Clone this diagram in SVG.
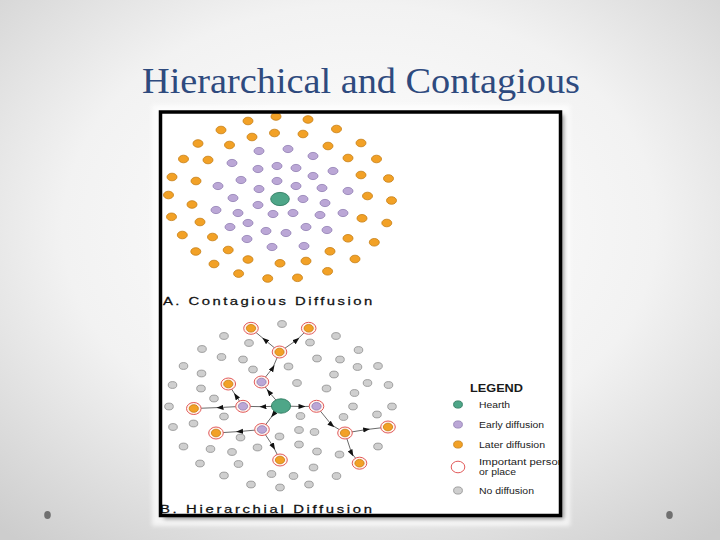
<svg xmlns="http://www.w3.org/2000/svg" width="720" height="540" viewBox="0 0 720 540">
<defs>
<radialGradient id="bg" cx="50%" cy="42%" r="75%">
<stop offset="0" stop-color="#ffffff"/>
<stop offset="0.55" stop-color="#f2f2f2"/>
<stop offset="1" stop-color="#cdcdcd"/>
</radialGradient>
<filter id="blur" x="-10%" y="-10%" width="120%" height="120%"><feGaussianBlur stdDeviation="2"/></filter>
<clipPath id="inner"><rect x="162" y="113" width="397" height="402"/></clipPath>
<marker id="ah" markerUnits="userSpaceOnUse" markerWidth="7" markerHeight="6" refX="3.5" refY="2.6" orient="auto">
<path d="M0,0 L7,2.6 L0,5.2 z" fill="#111"/>
</marker>
<style>
.o{fill:#f2a126;stroke:#c57d14;stroke-width:0.8}
.p{fill:#bba7d6;stroke:#8e7bb1;stroke-width:0.8}
.g{fill:#cfcfcf;stroke:#8e8e8e;stroke-width:0.8}
.h{fill:#4ea688;stroke:#2e7a60;stroke-width:0.9}
.ring{fill:#fff4ee;stroke:#e25a5a;stroke-width:1}
.lbl{font-family:"Liberation Sans",Arial,sans-serif;font-size:11px;fill:#111;stroke:#111;stroke-width:0.25}
.leg{font-family:"Liberation Sans",Arial,sans-serif;font-size:8.5px;fill:#1a1a1a}
.con path{fill:none;stroke:#444;stroke-width:0.8;marker-mid:url(#ah)}
</style>
</defs>
<rect width="720" height="540" fill="url(#bg)"/>
<text x="142" y="93" font-family="'Liberation Serif','Times New Roman',serif" font-size="36" fill="#2e4a7e" textLength="438" lengthAdjust="spacingAndGlyphs">Hierarchical and Contagious</text>
<ellipse cx="47.5" cy="515" rx="3.3" ry="4" fill="#707070"/>
<ellipse cx="669.5" cy="515" rx="3.3" ry="4" fill="#707070"/>
<rect x="152" y="105" width="418" height="421" fill="#ffffff" opacity="0.7" filter="url(#blur)"/>
<rect x="164" y="115" width="400" height="404" fill="#555" opacity="0.6" filter="url(#blur)"/>
<rect x="160.5" y="112" width="400" height="403.5" fill="#ffffff"/>
<g clip-path="url(#inner)">
<g id="contagious">
<g id="c-later">
<ellipse class="o" cx="248" cy="121" rx="5" ry="3.8"/><ellipse class="o" cx="276" cy="116.5" rx="5" ry="3.8"/><ellipse class="o" cx="308" cy="119.5" rx="5" ry="3.8"/>
<ellipse class="o" cx="221" cy="130" rx="5" ry="3.8"/><ellipse class="o" cx="336.5" cy="129" rx="5" ry="3.8"/>
<ellipse class="o" cx="252" cy="137" rx="5" ry="3.8"/><ellipse class="o" cx="274.5" cy="133" rx="5" ry="3.8"/><ellipse class="o" cx="303" cy="134" rx="5" ry="3.8"/>
<ellipse class="o" cx="198" cy="143.5" rx="5" ry="3.8"/><ellipse class="o" cx="229.5" cy="145" rx="5" ry="3.8"/><ellipse class="o" cx="328" cy="146" rx="5" ry="3.8"/><ellipse class="o" cx="361" cy="143" rx="5" ry="3.8"/>
<ellipse class="o" cx="183.5" cy="159" rx="5" ry="3.8"/><ellipse class="o" cx="208" cy="160" rx="5" ry="3.8"/><ellipse class="o" cx="348" cy="158" rx="5" ry="3.8"/><ellipse class="o" cx="376.5" cy="159" rx="5" ry="3.8"/>
<ellipse class="o" cx="172" cy="177" rx="5" ry="3.8"/><ellipse class="o" cx="196" cy="181" rx="5" ry="3.8"/><ellipse class="o" cx="361" cy="175" rx="5" ry="3.8"/><ellipse class="o" cx="388.5" cy="178.5" rx="5" ry="3.8"/>
<ellipse class="o" cx="168.5" cy="195" rx="5" ry="3.8"/><ellipse class="o" cx="192" cy="204.5" rx="5" ry="3.8"/><ellipse class="o" cx="367.5" cy="196" rx="5" ry="3.8"/><ellipse class="o" cx="391.5" cy="200.5" rx="5" ry="3.8"/>
<ellipse class="o" cx="171.5" cy="216.8" rx="5" ry="3.8"/><ellipse class="o" cx="200" cy="222" rx="5" ry="3.8"/><ellipse class="o" cx="362" cy="218.3" rx="5" ry="3.8"/><ellipse class="o" cx="386.8" cy="223" rx="5" ry="3.8"/>
<ellipse class="o" cx="182.3" cy="235" rx="5" ry="3.8"/><ellipse class="o" cx="212.5" cy="237" rx="5" ry="3.8"/><ellipse class="o" cx="348" cy="238.3" rx="5" ry="3.8"/><ellipse class="o" cx="374.3" cy="242.3" rx="5" ry="3.8"/>
<ellipse class="o" cx="195.8" cy="251.5" rx="5" ry="3.8"/><ellipse class="o" cx="228.2" cy="250" rx="5" ry="3.8"/><ellipse class="o" cx="330" cy="251.3" rx="5" ry="3.8"/><ellipse class="o" cx="355" cy="259" rx="5" ry="3.8"/>
<ellipse class="o" cx="214" cy="264" rx="5" ry="3.8"/><ellipse class="o" cx="248" cy="259.5" rx="5" ry="3.8"/><ellipse class="o" cx="280" cy="263.3" rx="5" ry="3.8"/><ellipse class="o" cx="306" cy="261" rx="5" ry="3.8"/>
<ellipse class="o" cx="327.6" cy="271.3" rx="5" ry="3.8"/><ellipse class="o" cx="238.6" cy="273.6" rx="5" ry="3.8"/><ellipse class="o" cx="267.7" cy="278.5" rx="5" ry="3.8"/><ellipse class="o" cx="297.5" cy="277.8" rx="5" ry="3.8"/>
</g>
<g id="c-early">
<ellipse class="p" cx="259" cy="151" rx="5" ry="3.6"/><ellipse class="p" cx="288" cy="149" rx="5" ry="3.6"/><ellipse class="p" cx="313" cy="156" rx="5" ry="3.6"/>
<ellipse class="p" cx="232" cy="163" rx="5" ry="3.6"/><ellipse class="p" cx="258" cy="169" rx="5" ry="3.6"/><ellipse class="p" cx="277" cy="166" rx="5" ry="3.6"/><ellipse class="p" cx="296" cy="168" rx="5" ry="3.6"/><ellipse class="p" cx="313" cy="176" rx="5" ry="3.6"/><ellipse class="p" cx="333" cy="171" rx="5" ry="3.6"/>
<ellipse class="p" cx="218" cy="186" rx="5" ry="3.6"/><ellipse class="p" cx="241" cy="180" rx="5" ry="3.6"/><ellipse class="p" cx="277" cy="181" rx="5" ry="3.6"/><ellipse class="p" cx="296" cy="186" rx="5" ry="3.6"/><ellipse class="p" cx="259" cy="189" rx="5" ry="3.6"/><ellipse class="p" cx="322" cy="188" rx="5" ry="3.6"/><ellipse class="p" cx="348" cy="191" rx="5" ry="3.6"/>
<ellipse class="p" cx="233" cy="198" rx="5" ry="3.6"/><ellipse class="p" cx="303" cy="199" rx="5" ry="3.6"/><ellipse class="p" cx="325" cy="203" rx="5" ry="3.6"/><ellipse class="p" cx="258" cy="205" rx="5" ry="3.6"/>
<ellipse class="p" cx="216" cy="210" rx="5" ry="3.6"/><ellipse class="p" cx="238" cy="213" rx="5" ry="3.6"/><ellipse class="p" cx="273" cy="214" rx="5" ry="3.6"/><ellipse class="p" cx="293" cy="213" rx="5" ry="3.6"/><ellipse class="p" cx="320" cy="215" rx="5" ry="3.6"/><ellipse class="p" cx="343" cy="213" rx="5" ry="3.6"/>
<ellipse class="p" cx="230" cy="227" rx="5" ry="3.6"/><ellipse class="p" cx="248" cy="223" rx="5" ry="3.6"/><ellipse class="p" cx="266" cy="231" rx="5" ry="3.6"/><ellipse class="p" cx="286" cy="233" rx="5" ry="3.6"/><ellipse class="p" cx="306" cy="227" rx="5" ry="3.6"/><ellipse class="p" cx="327" cy="230" rx="5" ry="3.6"/>
<ellipse class="p" cx="247" cy="239" rx="5" ry="3.6"/><ellipse class="p" cx="272" cy="247" rx="5" ry="3.6"/><ellipse class="p" cx="304" cy="246" rx="5" ry="3.6"/>
</g>
<g id="c-hearth"><ellipse class="h" cx="280" cy="199" rx="9.3" ry="6.6"/></g>
</g>
<text class="lbl" transform="translate(163,305) scale(1.35,1)" x="0" y="0" textLength="155" lengthAdjust="spacing">A. Contagious Diffusion</text>

<g id="h-none">
<ellipse class="g" cx="282" cy="324" rx="4.3" ry="3.4"/><ellipse class="g" cx="224" cy="336" rx="4.3" ry="3.4"/><ellipse class="g" cx="336" cy="336" rx="4.3" ry="3.4"/><ellipse class="g" cx="249" cy="343" rx="4.3" ry="3.4"/><ellipse class="g" cx="310" cy="342.5" rx="4.3" ry="3.4"/>
<ellipse class="g" cx="202" cy="349" rx="4.3" ry="3.4"/><ellipse class="g" cx="358.5" cy="350" rx="4.3" ry="3.4"/><ellipse class="g" cx="221.5" cy="357" rx="4.3" ry="3.4"/><ellipse class="g" cx="243" cy="359.5" rx="4.3" ry="3.4"/><ellipse class="g" cx="317" cy="358.5" rx="4.3" ry="3.4"/><ellipse class="g" cx="340" cy="359.5" rx="4.3" ry="3.4"/>
<ellipse class="g" cx="183.5" cy="366" rx="4.3" ry="3.4"/><ellipse class="g" cx="253" cy="369.5" rx="4.3" ry="3.4"/><ellipse class="g" cx="288.5" cy="366.5" rx="4.3" ry="3.4"/><ellipse class="g" cx="357.5" cy="367" rx="4.3" ry="3.4"/><ellipse class="g" cx="378" cy="366" rx="4.3" ry="3.4"/>
<ellipse class="g" cx="201.5" cy="373.5" rx="4.3" ry="3.4"/><ellipse class="g" cx="334" cy="374.5" rx="4.3" ry="3.4"/>
<ellipse class="g" cx="172.5" cy="385" rx="4.3" ry="3.4"/><ellipse class="g" cx="201" cy="388.5" rx="4.3" ry="3.4"/><ellipse class="g" cx="297" cy="383" rx="4.3" ry="3.4"/><ellipse class="g" cx="326.5" cy="388.5" rx="4.3" ry="3.4"/><ellipse class="g" cx="367.5" cy="383" rx="4.3" ry="3.4"/><ellipse class="g" cx="388.5" cy="385" rx="4.3" ry="3.4"/>
<ellipse class="g" cx="214" cy="398.5" rx="4.3" ry="3.4"/><ellipse class="g" cx="354.5" cy="393" rx="4.3" ry="3.4"/>
<ellipse class="g" cx="169" cy="406.5" rx="4.3" ry="3.4"/><ellipse class="g" cx="224" cy="416.5" rx="4.3" ry="3.4"/><ellipse class="g" cx="300.5" cy="416" rx="4.3" ry="3.4"/><ellipse class="g" cx="353" cy="406.5" rx="4.3" ry="3.4"/><ellipse class="g" cx="392" cy="406.5" rx="4.3" ry="3.4"/>
<ellipse class="g" cx="173" cy="427" rx="4.3" ry="3.4"/><ellipse class="g" cx="193.5" cy="423.5" rx="4.3" ry="3.4"/><ellipse class="g" cx="343.5" cy="417" rx="4.3" ry="3.4"/><ellipse class="g" cx="377" cy="414.5" rx="4.3" ry="3.4"/>
<ellipse class="g" cx="240.5" cy="437.5" rx="4.3" ry="3.4"/><ellipse class="g" cx="279.5" cy="436.5" rx="4.3" ry="3.4"/><ellipse class="g" cx="299" cy="430" rx="4.3" ry="3.4"/><ellipse class="g" cx="314.5" cy="432" rx="4.3" ry="3.4"/>
<ellipse class="g" cx="299" cy="444.5" rx="4.3" ry="3.4"/><ellipse class="g" cx="183.5" cy="446.5" rx="4.3" ry="3.4"/><ellipse class="g" cx="210.5" cy="449" rx="4.3" ry="3.4"/><ellipse class="g" cx="232" cy="452" rx="4.3" ry="3.4"/><ellipse class="g" cx="257.5" cy="447.5" rx="4.3" ry="3.4"/><ellipse class="g" cx="317" cy="451.5" rx="4.3" ry="3.4"/><ellipse class="g" cx="339.5" cy="454.5" rx="4.3" ry="3.4"/><ellipse class="g" cx="378" cy="446.5" rx="4.3" ry="3.4"/>
<ellipse class="g" cx="200" cy="463.5" rx="4.3" ry="3.4"/><ellipse class="g" cx="238.5" cy="464" rx="4.3" ry="3.4"/><ellipse class="g" cx="313.5" cy="467.5" rx="4.3" ry="3.4"/><ellipse class="g" cx="336.5" cy="476" rx="4.3" ry="3.4"/>
<ellipse class="g" cx="224" cy="475.5" rx="4.3" ry="3.4"/><ellipse class="g" cx="271.5" cy="474" rx="4.3" ry="3.4"/><ellipse class="g" cx="293.5" cy="476" rx="4.3" ry="3.4"/>
<ellipse class="g" cx="251" cy="484.5" rx="4.3" ry="3.4"/><ellipse class="g" cx="280" cy="487.5" rx="4.3" ry="3.4"/><ellipse class="g" cx="309" cy="484.5" rx="4.3" ry="3.4"/>
</g>

<g id="connectors" class="con">
<path d="M281,406 L269,392 L261.5,382"/>
<path d="M281,406 L263,406.7 L243,406.3"/>
<path d="M281,406 L302,406.5 L316.5,406.3"/>
<path d="M281,406 L273.3,414.5 L262,429.5"/>
<path d="M261.5,382 L272.7,368 L279.5,352"/>
<path d="M279.5,352 L265,340 L251,328.3"/>
<path d="M279.5,352 L296.7,340 L308.7,328.3"/>
<path d="M243,406.3 L236,396 L228.3,384"/>
<path d="M243,406.3 L220,407.5 L193.8,408.5"/>
<path d="M262,429.5 L239.5,431.5 L216,433"/>
<path d="M262,429.5 L273.3,446.7 L280,460"/>
<path d="M316.5,406.3 L331.7,425 L345,433"/>
<path d="M345,433 L366.7,429.5 L388,427"/>
<path d="M345,433 L351.7,453.3 L359.5,463.2"/>
</g>

<g id="h-hearth"><ellipse class="h" cx="281" cy="406" rx="9.6" ry="7.2"/></g>
<g id="h-early-1"><ellipse class="ring" cx="261.5" cy="382" rx="7.3" ry="6"/><ellipse class="p" cx="261.5" cy="382" rx="4.6" ry="3.8"/></g>
<g id="h-early-2"><ellipse class="ring" cx="243" cy="406.3" rx="7.3" ry="6"/><ellipse class="p" cx="243" cy="406.3" rx="4.6" ry="3.8"/></g>
<g id="h-early-3"><ellipse class="ring" cx="316.5" cy="406.3" rx="7.3" ry="6"/><ellipse class="p" cx="316.5" cy="406.3" rx="4.6" ry="3.8"/></g>
<g id="h-early-4"><ellipse class="ring" cx="262" cy="429.5" rx="7.3" ry="6"/><ellipse class="p" cx="262" cy="429.5" rx="4.6" ry="3.8"/></g>
<g id="h-later-1"><ellipse class="ring" cx="279.5" cy="352" rx="7.3" ry="6"/><ellipse class="o" cx="279.5" cy="352" rx="4.6" ry="3.8"/></g>
<g id="h-later-2"><ellipse class="ring" cx="251" cy="328.3" rx="7.3" ry="6"/><ellipse class="o" cx="251" cy="328.3" rx="4.6" ry="3.8"/></g>
<g id="h-later-3"><ellipse class="ring" cx="308.7" cy="328.3" rx="7.3" ry="6"/><ellipse class="o" cx="308.7" cy="328.3" rx="4.6" ry="3.8"/></g>
<g id="h-later-4"><ellipse class="ring" cx="228.3" cy="384" rx="7.3" ry="6"/><ellipse class="o" cx="228.3" cy="384" rx="4.6" ry="3.8"/></g>
<g id="h-later-5"><ellipse class="ring" cx="193.8" cy="408.5" rx="7.3" ry="6"/><ellipse class="o" cx="193.8" cy="408.5" rx="4.6" ry="3.8"/></g>
<g id="h-later-6"><ellipse class="ring" cx="216" cy="433" rx="7.3" ry="6"/><ellipse class="o" cx="216" cy="433" rx="4.6" ry="3.8"/></g>
<g id="h-later-7"><ellipse class="ring" cx="280" cy="460" rx="7.3" ry="6"/><ellipse class="o" cx="280" cy="460" rx="4.6" ry="3.8"/></g>
<g id="h-later-8"><ellipse class="ring" cx="345" cy="433" rx="7.3" ry="6"/><ellipse class="o" cx="345" cy="433" rx="4.6" ry="3.8"/></g>
<g id="h-later-9"><ellipse class="ring" cx="388" cy="427" rx="7.3" ry="6"/><ellipse class="o" cx="388" cy="427" rx="4.6" ry="3.8"/></g>
<g id="h-later-10"><ellipse class="ring" cx="359.5" cy="463.2" rx="7.3" ry="6"/><ellipse class="o" cx="359.5" cy="463.2" rx="4.6" ry="3.8"/></g>

<g id="legend">
<text x="470" y="392" font-family="'Liberation Sans',Arial,sans-serif" font-weight="bold" font-size="11" fill="#1a1a1a" textLength="53" lengthAdjust="spacingAndGlyphs">LEGEND</text>
<ellipse class="h" cx="458" cy="404.5" rx="4.4" ry="3.6"/>
<text class="leg" x="479" y="407.5" textLength="31" lengthAdjust="spacingAndGlyphs">Hearth</text>
<ellipse class="p" cx="458" cy="424.5" rx="4.4" ry="3.6"/>
<text class="leg" x="479" y="427.5" textLength="65" lengthAdjust="spacingAndGlyphs">Early diffusion</text>
<ellipse class="o" cx="458" cy="444.5" rx="4.4" ry="3.6"/>
<text class="leg" x="479" y="447.5" textLength="66" lengthAdjust="spacingAndGlyphs">Later diffusion</text>
<ellipse cx="458" cy="467" rx="6.8" ry="5.8" fill="#ffffff" stroke="#e25a5a" stroke-width="1"/>
<text class="leg" x="479" y="465.3" textLength="85" lengthAdjust="spacingAndGlyphs">Important person</text>
<text class="leg" x="479" y="474.8" textLength="37" lengthAdjust="spacingAndGlyphs">or place</text>
<ellipse class="g" cx="458" cy="490.5" rx="4.4" ry="3.6"/>
<text class="leg" x="479" y="493.5" textLength="55" lengthAdjust="spacingAndGlyphs">No diffusion</text>
</g>
<text class="lbl" transform="translate(160,512.8) scale(1.35,1)" x="0" y="0" textLength="157" lengthAdjust="spacing">B. Hierarchial Diffusion</text>
</g>
<rect x="160.5" y="112" width="400" height="403.5" fill="none" stroke="#000" stroke-width="3.5"/>
</svg>
